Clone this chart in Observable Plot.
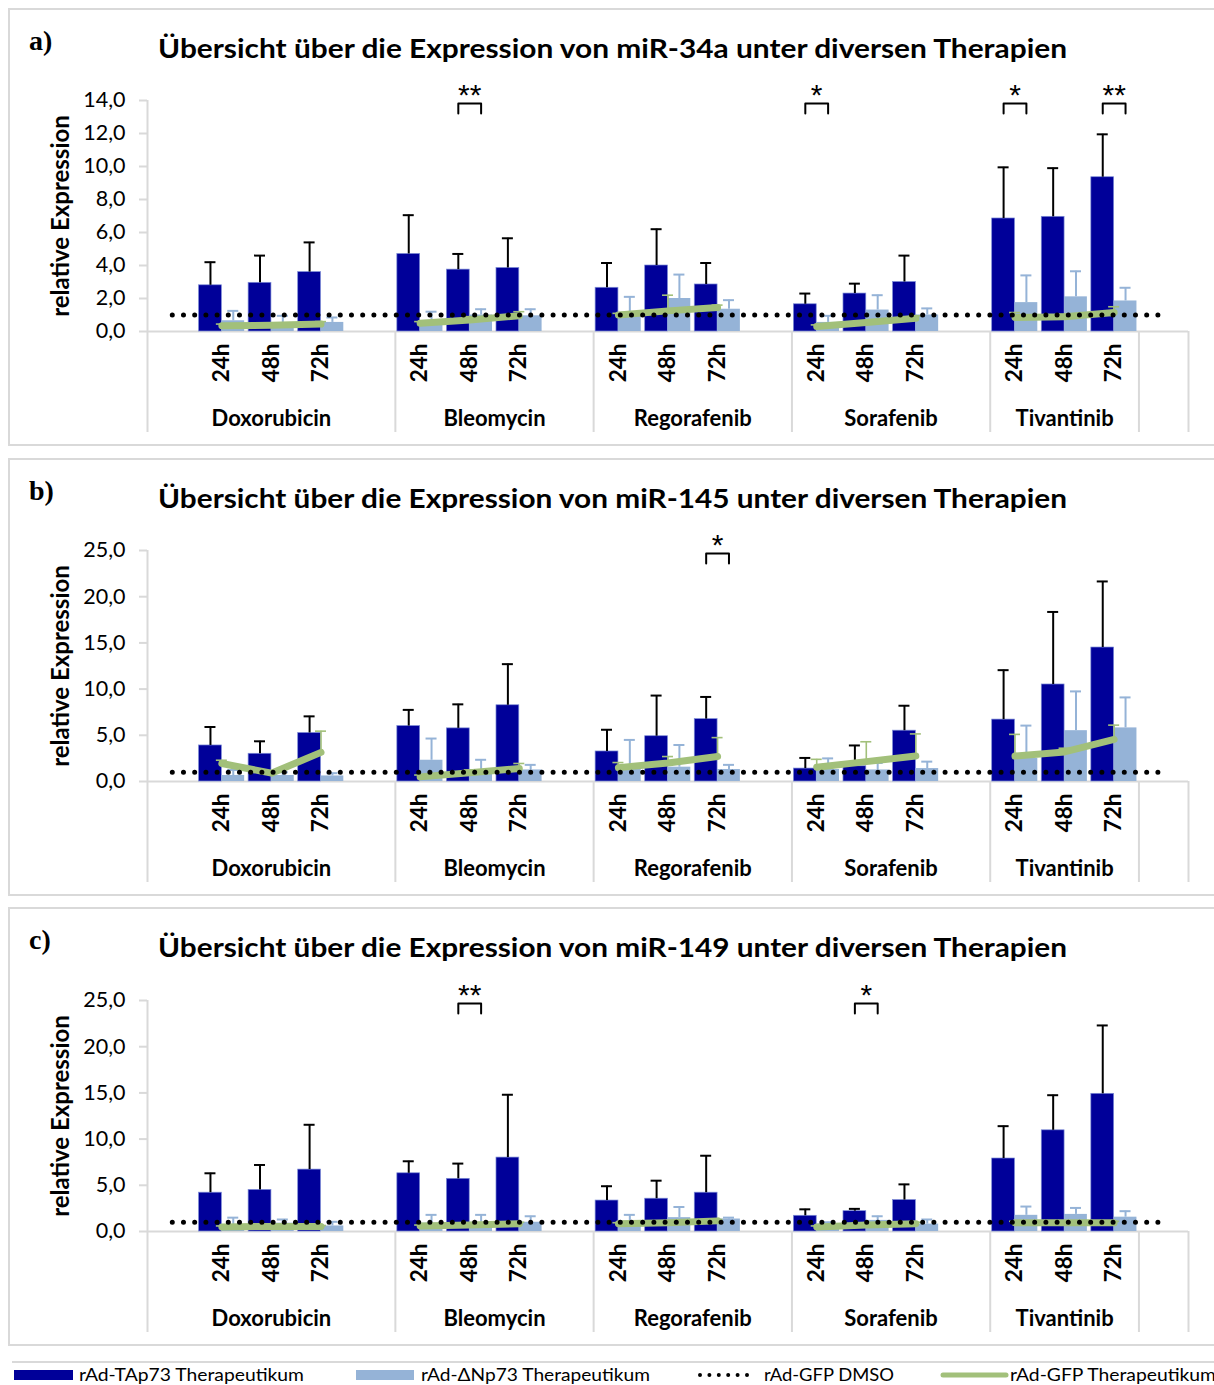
<!DOCTYPE html>
<html>
<head>
<meta charset="utf-8">
<script src="https://cdn.jsdelivr.net/npm/d3@7"></script>
<script src="https://cdn.jsdelivr.net/npm/@observablehq/plot@0.6"></script>
<style>
  body { margin: 0; background: #fff; }
  #root { position: relative; width: 1214px; height: 1385px; overflow: hidden; background: #fff; }
  .panel { position: absolute; left: 8px; width: 1212px; border: 2px solid #d9d9d9; box-sizing: border-box; }
  .hdr { position: absolute; left: 0; width: 1214px; height: 60px; overflow: visible; }
  .plot { position: absolute; left: 0; }
  .plot svg { overflow: visible; }
</style>
</head>
<body>
<div id="root"></div>
<script>
// ---------- categories ----------
const slotLabels = ["", "24h", "48h", "72h", "", "24h", "48h", "72h", "", "24h", "48h", "72h", "", "24h", "48h", "72h", "", "24h", "48h", "72h", ""];
const slotGroups = ["Doxorubicin", "Doxorubicin", "Doxorubicin", "Doxorubicin", "Doxorubicin",
  "Bleomycin", "Bleomycin", "Bleomycin", "Bleomycin",
  "Regorafenib", "Regorafenib", "Regorafenib", "Regorafenib",
  "Sorafenib", "Sorafenib", "Sorafenib", "Sorafenib",
  "Tivantinib", "Tivantinib", "Tivantinib", ""];
const drugs = ["Doxorubicin", "Bleomycin", "Regorafenib", "Sorafenib", "Tivantinib"];
const times = ["24h", "48h", "72h"];
const seriesNames = ["rAd-TAp73 Therapeutikum", "rAd-ΔNp73 Therapeutikum", "rAd-GFP DMSO", "rAd-GFP Therapeutikum"];
const gfpDmsoValue = 1.0;

// ---------- panel a: miR-34a ----------
const titleA = "Übersicht über die Expression von miR-34a unter diversen Therapien";
const yTicksA = [0, 2, 4, 6, 8, 10, 12, 14];
const tapA    = [2.8, 2.95, 3.6,  4.7, 3.75, 3.85,  2.65, 4.0, 2.85,  1.65, 2.3, 3.0,  6.85, 6.95, 9.35];
const tapSdA  = [1.4, 1.65, 1.8,  2.35, 0.95, 1.8,  1.5, 2.2, 1.3,  0.65, 0.6, 1.6,  3.1, 2.95, 2.6];
const dnpA    = [0.65, 0.5, 0.55,  0.65, 1.0, 0.95,  1.0, 2.0, 1.35,  0.55, 1.3, 1.0,  1.75, 2.1, 1.85];
const dnpSdA  = [0.6, 0.45, 0.3,  0.55, 0.35, 0.4,  1.1, 1.45, 0.55,  0.4, 0.9, 0.4,  1.65, 1.55, 0.8];
const gfpA    = [0.35, 0.38, 0.45,  0.5, 0.7, 0.95,  1.0, 1.25, 1.45,  0.3, 0.55, 0.8,  0.85, 0.9, 1.15];
const gfpSdA  = [0.1, 0.1, 0.15,  0.1, 0.2, 0.25,  0.1, 0.95, 0.15,  0.1, 0.1, 0.15,  0.3, 0.15, 0.35];
const sigA = [
  {drug: "Bleomycin", time: "48h", label: "**"},
  {drug: "Sorafenib", time: "24h", label: "*"},
  {drug: "Tivantinib", time: "24h", label: "*"},
  {drug: "Tivantinib", time: "72h", label: "**"}
];

// ---------- panel b: miR-145 ----------
const titleB = "Übersicht über die Expression von miR-145 unter diversen Therapien";
const yTicksB = [0, 5, 10, 15, 20, 25];
const tapB    = [3.9, 3.0, 5.25,  6.0, 5.75, 8.25,  3.25, 4.9, 6.75,  1.4, 1.65, 5.5,  6.7, 10.5, 14.5];
const tapSdB  = [2.0, 1.35, 1.8,  1.75, 2.6, 4.45,  2.35, 4.4, 2.4,  1.15, 2.25, 2.7,  5.35, 7.85, 7.15];
const dnpB    = [0.65, 0.65, 0.6,  2.3, 1.3, 1.25,  1.5, 1.55, 1.3,  1.3, 1.25, 1.4,  2.5, 5.5, 5.8];
const dnpSdB  = [0.6, 0.35, 0.3,  2.35, 1.05, 0.55,  3.0, 2.4, 0.5,  1.2, 0.75, 0.75,  3.55, 4.25, 3.3];
const gfpB    = [1.95, 0.9, 3.15,  0.5, 0.95, 1.4,  1.5, 2.0, 2.7,  1.55, 2.15, 2.75,  2.75, 3.2, 4.55];
const gfpSdB  = [0.35, 0.2, 2.3,  0.2, 0.3, 0.55,  0.55, 0.7, 2.05,  0.85, 2.15, 2.4,  2.35, 0.4, 1.55];
const sigB = [
  {drug: "Regorafenib", time: "72h", label: "*"}
];

// ---------- panel c: miR-149 ----------
const titleC = "Übersicht über die Expression von miR-149 unter diversen Therapien";
const yTicksC = [0, 5, 10, 15, 20, 25];
const tapC    = [4.2, 4.5, 6.7,  6.3, 5.7, 8.0,  3.35, 3.55, 4.2,  1.7, 2.2, 3.4,  7.9, 10.95, 14.9];
const tapSdC  = [2.1, 2.7, 4.85,  1.3, 1.65, 6.8,  1.55, 1.95, 4.0,  0.7, 0.25, 1.7,  3.5, 3.8, 7.4];
const dnpC    = [0.6, 0.9, 0.6,  0.9, 1.0, 1.0,  1.1, 1.5, 1.35,  0.8, 1.2, 0.8,  1.75, 1.85, 1.55];
const dnpSdC  = [0.9, 0.4, 0.45,  0.9, 0.8, 0.65,  0.7, 1.15, 0.15,  0.2, 0.45, 0.5,  0.95, 0.7, 0.65];
const gfpC    = [0.5, 0.55, 0.55,  0.6, 0.7, 0.85,  0.85, 0.95, 1.15,  0.5, 0.7, 0.85,  0.95, 0.95, 0.95];
const gfpSdC  = [0.1, 0.1, 0.1,  0.1, 0.15, 0.15,  0.1, 0.15, 0.15,  0.1, 0.1, 0.15,  0.15, 0.15, 0.15];
const sigC = [
  {drug: "Bleomycin", time: "48h", label: "**"},
  {drug: "Sorafenib", time: "48h", label: "*"}
];

// ---------- styling ----------
const DARK = "#000099", LIGHT = "#95b3d7", GREEN = "#a2c07a", GRID = "#d9d9d9";
const FONT = "Lato, 'Open Sans', sans-serif";
const W = 1214, ML = 147, MR = 26, MT = 20, MB = 115, PH = 231;
const nSlots = slotLabels.length;
const slotPx = (W - ML - MR) / nSlots;
const BW = 0.46;               // bar width in slots
const CAP = 5.5 / slotPx;      // half cap width in slots
const fmt = v => v.toFixed(1).replace(".", ",");
const slotOf = (drug, time) => slotLabels.findIndex((l, i) => l === time && slotGroups[i] === drug);

// group runs
const runs = [];
slotGroups.forEach((g, i) => {
  if (i === 0 || g !== slotGroups[i - 1]) runs.push({name: g, start: i, end: i + 1});
  else runs[runs.length - 1].end = i + 1;
});
const separators = runs.slice(1).map(r => r.start).concat([nSlots]);
const labelledRuns = runs.filter(r => r.name !== "");

function makePanel(P) {
  const yMax = P.ticks[P.ticks.length - 1];
  const k = PH / yMax;
  const u = px => px / k;            // px -> data units
  const rows = drugs.flatMap((d, di) => times.map((t, ti) => {
    const j = di * 3 + ti;
    return {drug: d, time: t, c: slotOf(d, t) + 0.5,
      tap: P.tap[j], tapSd: P.tapSd[j], dnp: P.dnp[j], dnpSd: P.dnpSd[j], gfp: P.gfp[j], gfpSd: P.gfpSd[j]};
  }));
  const dmso = slotLabels.map((_, i) => ({x: i + 0.5, y: gfpDmsoValue}));
  const tickSlots = slotLabels.map((l, i) => ({l, x: i + 0.5})).filter(d => d.l !== "");
  const sig = P.sig.map((s, i) => ({...s, id: i, c: slotOf(s.drug, s.time) + 0.5}));
  const yTop = yMax - u(3), yLeg = yMax - u(13);
  const bracketPts = sig.flatMap(s => [
    {id: s.id, x: s.c - BW / 2, y: yLeg},
    {id: s.id, x: s.c - BW / 2, y: yTop},
    {id: s.id, x: s.c + BW / 2, y: yTop},
    {id: s.id, x: s.c + BW / 2, y: yLeg}
  ]);
  const sepDepth = u(101);

  return Plot.plot({
    width: W, height: MT + PH + MB,
    marginLeft: ML, marginRight: MR, marginTop: MT, marginBottom: MB,
    x: {domain: [0, nSlots], axis: null},
    y: {domain: [0, yMax], axis: null},
    style: {fontFamily: FONT, background: "transparent", overflow: "visible"},
    marks: [
      // axes & separators
      Plot.ruleY([0], {x1: 0, x2: nSlots, stroke: GRID, strokeWidth: 2}),
      Plot.ruleX([0], {y1: yMax, y2: -sepDepth, stroke: GRID, strokeWidth: 2}),
      Plot.ruleX(separators, {y1: 0, y2: -sepDepth, stroke: GRID, strokeWidth: 2}),
      Plot.ruleY(P.ticks, {x1: -8 / slotPx, x2: 0, stroke: GRID, strokeWidth: 2}),
      Plot.text(P.ticks, {x: 0, y: d => d, dx: -22, text: d => fmt(d), textAnchor: "end", fontSize: 21.5, fill: "#000"}),
      Plot.text(["relative Expression"], {frameAnchor: "left", dx: -86, text: d => d, rotate: -90, textAnchor: "middle", fontSize: 24, fontWeight: "bold", fill: "#000"}),
      // bars
      Plot.rectY(rows, {x1: d => d.c - BW, x2: d => d.c, y1: 0, y2: "tap", fill: DARK, stroke: "#7d8cd6", strokeWidth: 0.7}),
      Plot.rectY(rows, {x1: d => d.c, x2: d => d.c + BW, y1: 0, y2: "dnp", fill: LIGHT}),
      // error bars
      Plot.ruleX(rows, {x: d => d.c - BW / 2, y1: "tap", y2: d => d.tap + d.tapSd, stroke: "#000", strokeWidth: 2}),
      Plot.ruleY(rows, {y: d => d.tap + d.tapSd, x1: d => d.c - BW / 2 - CAP, x2: d => d.c - BW / 2 + CAP, stroke: "#000", strokeWidth: 2}),
      Plot.ruleX(rows, {x: d => d.c + BW / 2, y1: "dnp", y2: d => d.dnp + d.dnpSd, stroke: LIGHT, strokeWidth: 2}),
      Plot.ruleY(rows, {y: d => d.dnp + d.dnpSd, x1: d => d.c + BW / 2 - CAP, x2: d => d.c + BW / 2 + CAP, stroke: LIGHT, strokeWidth: 2}),
      Plot.ruleX(rows, {x: "c", y1: "gfp", y2: d => d.gfp + d.gfpSd, stroke: GREEN, strokeWidth: 1.6}),
      Plot.ruleY(rows, {y: d => d.gfp + d.gfpSd, x1: d => d.c - CAP, x2: d => d.c + CAP, stroke: GREEN, strokeWidth: 1.6}),
      // GFP therapeutic line
      Plot.line(rows, {x: "c", y: "gfp", z: "drug", stroke: GREEN, strokeWidth: 7, strokeLinecap: "round", strokeLinejoin: "round"}),
      // GFP DMSO dotted
      Plot.line(dmso, {x: "x", y: "y", stroke: "#000", strokeWidth: 5, strokeDasharray: "0 11.2", strokeLinecap: "round"}),
      // x labels
      Plot.text(tickSlots, {x: "x", y: 0, dy: 12, text: "l", rotate: -90, textAnchor: "end", fontSize: 22.5, fontWeight: "bold", fill: "#000"}),
      Plot.text(labelledRuns, {x: d => (d.start + d.end) / 2, y: 0, dy: 87, text: "name", fontSize: 22, fontWeight: "bold", fill: "#000"}),
      // significance
      Plot.line(bracketPts, {x: "x", y: "y", z: "id", stroke: "#000", strokeWidth: 2, curve: "linear"}),
      Plot.text(sig, {x: "c", y: yMax, dy: 4, text: "label", lineAnchor: "bottom", fontSize: 30, fontFamily: "'Liberation Sans', Arial, sans-serif", fill: "#000"})
    ]
  });
}

const panels = [
  {letter: "a)", title: titleA, ticks: yTicksA, tap: tapA, tapSd: tapSdA, dnp: dnpA, dnpSd: dnpSdA, gfp: gfpA, gfpSd: gfpSdA, sig: sigA, box: [8, 438], top: 80},
  {letter: "b)", title: titleB, ticks: yTicksB, tap: tapB, tapSd: tapSdB, dnp: dnpB, dnpSd: dnpSdB, gfp: gfpB, gfpSd: gfpSdB, sig: sigB, box: [458, 438], top: 530},
  {letter: "c)", title: titleC, ticks: yTicksC, tap: tapC, tapSd: tapSdC, dnp: dnpC, dnpSd: dnpSdC, gfp: gfpC, gfpSd: gfpSdC, sig: sigC, box: [907, 439], top: 980}
];

const root = document.getElementById("root");
const NS = "http://www.w3.org/2000/svg";
panels.forEach(P => {
  const box = document.createElement("div");
  box.className = "panel";
  box.style.top = P.box[0] + "px";
  box.style.height = P.box[1] + "px";
  root.appendChild(box);

  // header (panel letter + title)
  const hdr = document.createElementNS(NS, "svg");
  hdr.setAttribute("class", "hdr");
  hdr.setAttribute("width", W); hdr.setAttribute("height", 60);
  hdr.style.top = P.box[0] + "px";
  const lt = document.createElementNS(NS, "text");
  lt.setAttribute("x", 29); lt.setAttribute("y", 42);
  lt.setAttribute("font-family", "'Liberation Serif', 'Times New Roman', serif");
  lt.setAttribute("font-weight", "bold"); lt.setAttribute("font-size", 28);
  lt.textContent = P.letter;
  hdr.appendChild(lt);
  const tt = document.createElementNS(NS, "text");
  tt.setAttribute("x", 158); tt.setAttribute("y", 50);
  tt.setAttribute("font-family", FONT);
  tt.setAttribute("font-weight", "bold"); tt.setAttribute("font-size", 27);
  tt.setAttribute("textLength", 909); tt.setAttribute("lengthAdjust", "spacingAndGlyphs");
  tt.textContent = P.title;
  hdr.appendChild(tt);
  root.appendChild(hdr);

  const wrap = document.createElement("div");
  wrap.className = "plot";
  wrap.style.top = P.top + "px";
  wrap.appendChild(makePanel(P));
  root.appendChild(wrap);
});

// legend
const leg = document.createElementNS(NS, "svg");
leg.setAttribute("width", W); leg.setAttribute("height", 30);
leg.style.position = "absolute"; leg.style.left = "0px"; leg.style.top = "1355px";
function el(tag, attrs, text) {
  const e = document.createElementNS(NS, tag);
  for (const k in attrs) e.setAttribute(k, attrs[k]);
  if (text) e.textContent = text;
  leg.appendChild(e);
  return e;
}
el("line", {x1: 12, x2: W, y1: 7, y2: 7, stroke: GRID, "stroke-width": 2});
const legItems = [
  {x0: 14, x1: 73, type: "rect", color: DARK, tx: 79, tl: 225},
  {x0: 356, x1: 414, type: "rect", color: LIGHT, tx: 421, tl: 229},
  {x0: 700, x1: 747, type: "dots", color: "#000", tx: 764, tl: 130},
  {x0: 943, x1: 1006, type: "line", color: GREEN, tx: 1010, tl: 206}
];
legItems.forEach((it, i) => {
  if (it.type === "rect") el("rect", {x: it.x0, y: 15, width: it.x1 - it.x0, height: 10, fill: it.color});
  else if (it.type === "dots") el("line", {x1: it.x0, x2: it.x1, y1: 20, y2: 20, stroke: it.color, "stroke-width": 4, "stroke-dasharray": "0 9.4", "stroke-linecap": "round"});
  else el("line", {x1: it.x0, x2: it.x1, y1: 20, y2: 20, stroke: it.color, "stroke-width": 5, "stroke-linecap": "round"});
  el("text", {x: it.tx, y: 26, "font-family": FONT, "font-size": 17, textLength: it.tl, lengthAdjust: "spacingAndGlyphs"}, seriesNames[i]);
});
root.appendChild(leg);
</script>
</body>
</html>
